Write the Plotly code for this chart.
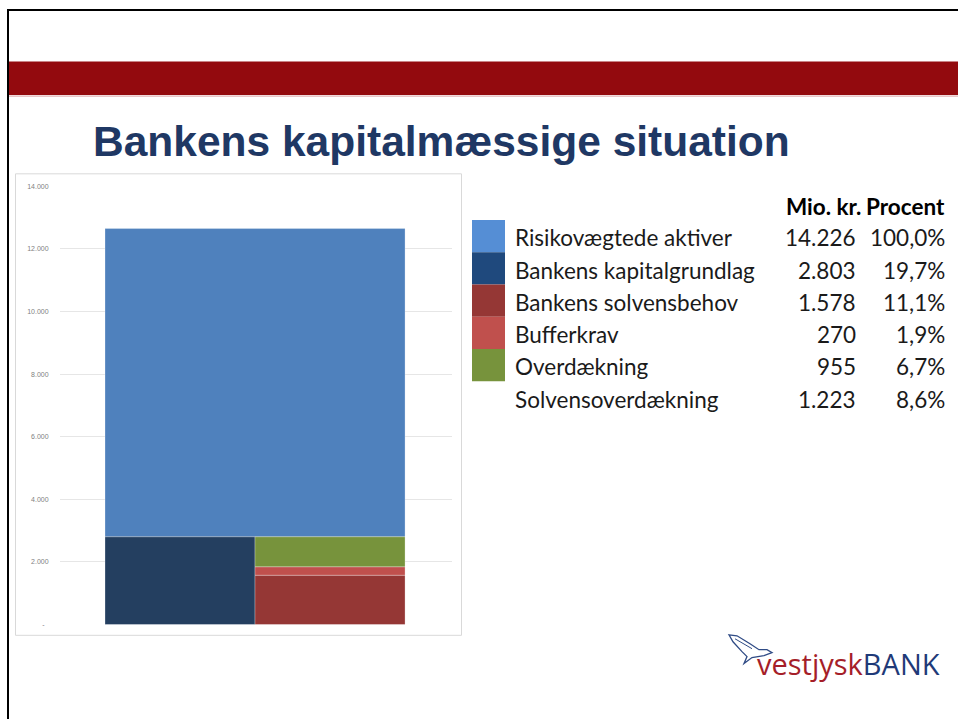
import plotly.graph_objects as go

W, H = 958, 722

# ---- data ----
table_labels = ["Risikovægtede aktiver", "Bankens kapitalgrundlag", "Bankens solvensbehov",
                "Bufferkrav", "Overdækning", "Solvensoverdækning"]
table_mio = ["14.226", "2.803", "1.578", "270", "955", "1.223"]
table_pct = ["100,0%", "19,7%", "11,1%", "1,9%", "6,7%", "8,6%"]

kapitalgrundlag = 2803
solvensbehov = 1578
bufferkrav = 270
overdaekning = 955
risiko_bar = 9845          # visible blue block above the capital columns

ytick_vals = [0, 2000, 4000, 6000, 8000, 10000, 12000, 14000]
ytick_text = ["-\u00a0\u00a0", "2.000", "4.000", "6.000", "8.000", "10.000", "12.000", "14.000"]

bar_colors = {"risiko": "#4F81BD", "kapital": "#243F60", "solvens": "#953735",
              "buffer": "#C0504D", "over": "#77933C"}
swatch_colors = ["#558ED5", "#1F497D", "#953735", "#C0504D", "#77933C"]


def px(x):
    return x / W


def py(y):
    return 1 - y / H


fig = go.Figure()
edge = dict(width=0.6, color="rgba(255,255,255,0.45)")

fig.add_trace(go.Bar(x=[0.5], y=[risiko_bar], base=[kapitalgrundlag], width=[2],
                     marker=dict(color=bar_colors["risiko"], line=edge)))
fig.add_trace(go.Bar(x=[0], y=[kapitalgrundlag], base=[0], width=[1],
                     marker=dict(color=bar_colors["kapital"], line=edge)))
fig.add_trace(go.Bar(x=[1], y=[solvensbehov], base=[0], width=[1],
                     marker=dict(color=bar_colors["solvens"], line=edge)))
fig.add_trace(go.Bar(x=[1], y=[bufferkrav], base=[solvensbehov], width=[1],
                     marker=dict(color=bar_colors["buffer"], line=edge)))
fig.add_trace(go.Bar(x=[1], y=[overdaekning], base=[solvensbehov + bufferkrav], width=[1],
                     marker=dict(color=bar_colors["over"], line=edge)))

shapes = []
annotations = []

# slide border
shapes.append(dict(type="line", xref="paper", yref="paper", x0=px(8), x1=px(8), y0=py(5), y1=py(722),
                   line=dict(color="black", width=2)))
shapes.append(dict(type="line", xref="paper", yref="paper", x0=px(7), x1=px(958), y0=py(6), y1=py(6),
                   line=dict(color="black", width=2)))
# red band
shapes.append(dict(type="rect", xref="paper", yref="paper", x0=px(9), x1=px(958), y0=py(92), y1=py(58),
                   fillcolor="#930A0E", line=dict(width=0), layer="below"))
shapes.append(dict(type="line", xref="paper", yref="paper", x0=px(9), x1=px(958), y0=py(93), y1=py(93),
                   line=dict(color="#D9A0A3", width=1)))
# chart box
shapes.append(dict(type="rect", xref="paper", yref="paper", x0=px(15.5), x1=px(461.5), y0=py(637.5), y1=py(171.5),
                   line=dict(color="#D9D9D9", width=1), fillcolor="rgba(0,0,0,0)", layer="below"))

# title
annotations.append(dict(xref="paper", yref="paper", x=px(91), y=py(139), xanchor="left", yanchor="middle",
                        text="<b>Bankens kapitalmæssige situation</b>", showarrow=False,
                        font=dict(family="Liberation Sans, Arial", size=42.5, color="#1F3864")))

# table
tfont = dict(family="Lato, Open Sans", size=22.5, color="#1a1a1a")
annotations.append(dict(xref="paper", yref="paper", x=px(863), y=py(204), xanchor="right", yanchor="middle",
                        text="<b>Mio. kr.</b>", showarrow=False, font=dict(tfont, color="#000000")))
annotations.append(dict(xref="paper", yref="paper", x=px(947), y=py(204), xanchor="right", yanchor="middle",
                        text="<b>Procent</b>", showarrow=False, font=dict(tfont, color="#000000")))
row_y = [236, 269, 301, 334, 366, 399]
sw_top = 218
sw_h = 32.6
for i, (lab, m, p) in enumerate(zip(table_labels, table_mio, table_pct)):
    annotations.append(dict(xref="paper", yref="paper", x=px(513), y=py(row_y[i]), xanchor="left",
                            yanchor="middle", text=lab, showarrow=False, font=tfont))
    annotations.append(dict(xref="paper", yref="paper", x=px(858), y=py(row_y[i]), xanchor="right",
                            yanchor="middle", text=m, showarrow=False, font=tfont))
    annotations.append(dict(xref="paper", yref="paper", x=px(947), y=py(row_y[i]), xanchor="right",
                            yanchor="middle", text=p, showarrow=False, font=tfont))
    if i < len(swatch_colors):
        shapes.append(dict(type="rect", xref="paper", yref="paper", x0=px(472), x1=px(505),
                           y0=py(sw_top + sw_h * (i + 1)), y1=py(sw_top + sw_h * i),
                           fillcolor=swatch_colors[i], line=dict(width=0)))

# logo
annotations.append(dict(xref="paper", yref="paper", x=px(755), y=py(666), xanchor="left", yanchor="middle",
                        text="<span style='color:#A51E29'>vestjysk</span><span style='color:#1F3A78'>BANK</span>",
                        showarrow=False, font=dict(family="Open Sans", size=29)))
bird = [(729, 637), (737, 638), (750, 646), (759, 652), (767, 652), (772, 655), (764, 658),
        (752, 660), (744, 666), (747, 659), (742, 654), (733, 644)]
path = "M " + " L ".join(f"{px(x):.5f},{py(y):.5f}" for x, y in bird) + " Z"
shapes.append(dict(type="path", xref="paper", yref="paper", path=path,
                   line=dict(color="#2F4B85", width=1.3), fillcolor="rgba(255,255,255,0)"))
shapes.append(dict(type="line", xref="paper", yref="paper", x0=px(735), x1=px(752), y0=py(641), y1=py(651),
                   line=dict(color="#2F4B85", width=1)))

fig.update_layout(
    width=W, height=H,
    margin=dict(l=0, r=0, t=0, b=0),
    paper_bgcolor="white", plot_bgcolor="white",
    barmode="overlay", showlegend=False,
    shapes=shapes, annotations=annotations,
    xaxis=dict(domain=[px(60), px(452)], range=[-0.8, 1.813], showticklabels=False,
               showgrid=False, zeroline=False, fixedrange=True),
    yaxis=dict(domain=[py(626.7), py(184)], range=[0, 14000], tickvals=ytick_vals, ticktext=ytick_text,
               showgrid=True, gridcolor="#E6E6E6", gridwidth=1, zeroline=False,
               ticks="outside", ticklen=9, tickcolor="rgba(0,0,0,0)",
               tickfont=dict(family="Liberation Sans", size=7, color="#7F7F7F")),
)

fig.write_html("out.html")
